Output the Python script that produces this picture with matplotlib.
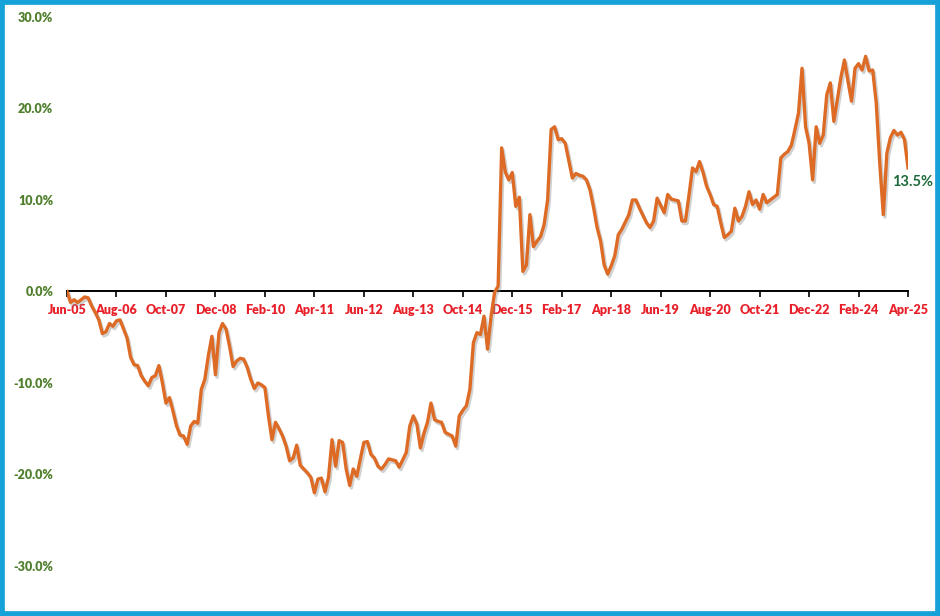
import numpy as np
import pandas as pd
import matplotlib
matplotlib.use("Agg")
import matplotlib.pyplot as plt
import matplotlib.patheffects as pe
from matplotlib.patches import Rectangle

# monthly cumulative relative return, Jun-2005 .. Apr-2025 (percent)
values = [
    0.0, -1.2, -0.9, -1.2, -0.9, -0.6, -0.7, -1.6, -2.3, -3.1,
    -4.6, -4.4, -3.5, -3.8, -3.2, -3.1, -4.1, -5.1, -7.2, -8.0,
    -8.1, -9.2, -9.8, -10.3, -9.4, -9.2, -8.1, -10.0, -12.2, -11.6,
    -13.1, -14.7, -15.7, -15.8, -16.7, -14.7, -14.2, -14.4, -10.7, -9.6,
    -7.0, -4.9, -9.1, -4.5, -3.5, -4.1, -6.0, -8.2, -7.6, -7.3,
    -7.4, -8.3, -9.6, -10.6, -10.0, -10.2, -10.5, -13.6, -16.2, -14.3,
    -15.0, -15.8, -16.9, -18.5, -18.2, -16.8, -19.0, -19.4, -19.8, -20.3,
    -22.0, -20.5, -20.4, -21.9, -20.3, -16.2, -19.1, -16.3, -16.5, -19.4,
    -21.2, -19.4, -20.2, -18.3, -16.5, -16.4, -17.8, -18.2, -19.1, -19.4,
    -18.9, -18.3, -18.4, -18.5, -19.2, -18.4, -17.6, -14.7, -13.6, -14.5,
    -17.1, -15.5, -14.3, -12.2, -14.0, -14.2, -14.3, -15.4, -15.6, -15.8,
    -16.9, -13.6, -13.0, -12.5, -10.7, -5.6, -4.5, -4.7, -2.7, -6.3,
    -2.7, -0.1, 0.6, 15.7, 13.1, 12.2, 13.0, 9.3, 10.3, 2.2,
    2.9, 8.4, 4.9, 5.5, 6.0, 7.3, 10.0, 17.7, 18.0, 16.6,
    16.7, 16.2, 14.3, 12.4, 12.9, 12.7, 12.6, 12.2, 11.1, 9.2,
    7.0, 5.5, 2.9, 1.9, 2.8, 3.9, 6.2, 6.8, 7.6, 8.4,
    10.0, 10.0, 9.1, 8.3, 7.5, 7.0, 7.7, 10.2, 9.4, 8.6,
    10.6, 10.1, 10.0, 9.9, 7.7, 7.7, 10.5, 13.5, 13.1, 14.2,
    13.0, 11.5, 10.6, 9.5, 9.3, 7.5, 5.9, 6.2, 6.6, 9.1,
    7.7, 8.2, 9.3, 10.9, 9.5, 10.0, 9.0, 10.6, 9.7, 10.0,
    10.3, 10.6, 14.6, 15.0, 15.3, 16.0, 17.7, 19.5, 24.4, 18.0,
    16.2, 12.2, 18.0, 16.2, 17.1, 21.5, 22.8, 18.6, 21.0, 23.4,
    25.3, 23.0, 20.8, 24.4, 24.9, 24.2, 25.7, 24.1, 24.2, 20.6,
    14.0, 8.4, 15.1, 16.8, 17.6, 17.1, 17.4, 16.6, 13.5,
]
dates = pd.date_range("2005-06-01", periods=len(values), freq="MS")
tick_step = 14
y_ticks = [-30, -20, -10, 0, 10, 20, 30]
end_label = "13.5%"

label_font = ["Lato", "DejaVu Sans"]

fig = plt.figure(figsize=(9.4, 6.16), dpi=100)
ax = fig.add_axes([0.0713, 0.0812, 0.8947, 0.8912])

x = np.arange(len(values))
ax.plot(x, values, color="#dd6b25", lw=2.4, solid_joinstyle="round",
        path_effects=[pe.SimpleLineShadow(offset=(1.2, -1.8), shadow_color="#8c8c8c", alpha=0.4),
                      pe.Normal()])

ax.set_xlim(0, len(values) - 1)
ax.set_ylim(-30, 30)

for s in ["top", "right", "left"]:
    ax.spines[s].set_visible(False)
ax.spines["bottom"].set_position(("data", 0))
ax.spines["bottom"].set_linewidth(1.4)
ax.spines["bottom"].set_zorder(1)

tick_idx = x[::tick_step]
ax.set_xticks(tick_idx)
ax.set_xticklabels([dates[i].strftime("%b-%y") for i in tick_idx],
                   family=label_font, fontweight="heavy", fontsize=9, color="#e8202a")
ax.tick_params(axis="x", direction="out", length=4, width=1.2, pad=5)

ax.set_yticks(y_ticks)
ax.set_yticklabels([f"{v:.1f}%" for v in y_ticks],
                   family=label_font, fontweight="heavy", fontsize=9, color="#4f7f2c")
ax.tick_params(axis="y", length=0, pad=10)

ax.annotate(end_label, xy=(x[-1], values[-1]), xytext=(4, -14), textcoords="offset pixels",
            ha="center", va="center", fontsize=10.5, fontweight="bold",
            family=label_font, color="#1d6b3a")

fig.patches.append(Rectangle((0, 0), 1, 1, transform=fig.transFigure, fill=False,
                             edgecolor="#16a1d8", lw=7))

fig.savefig("out.png", dpi=100)
